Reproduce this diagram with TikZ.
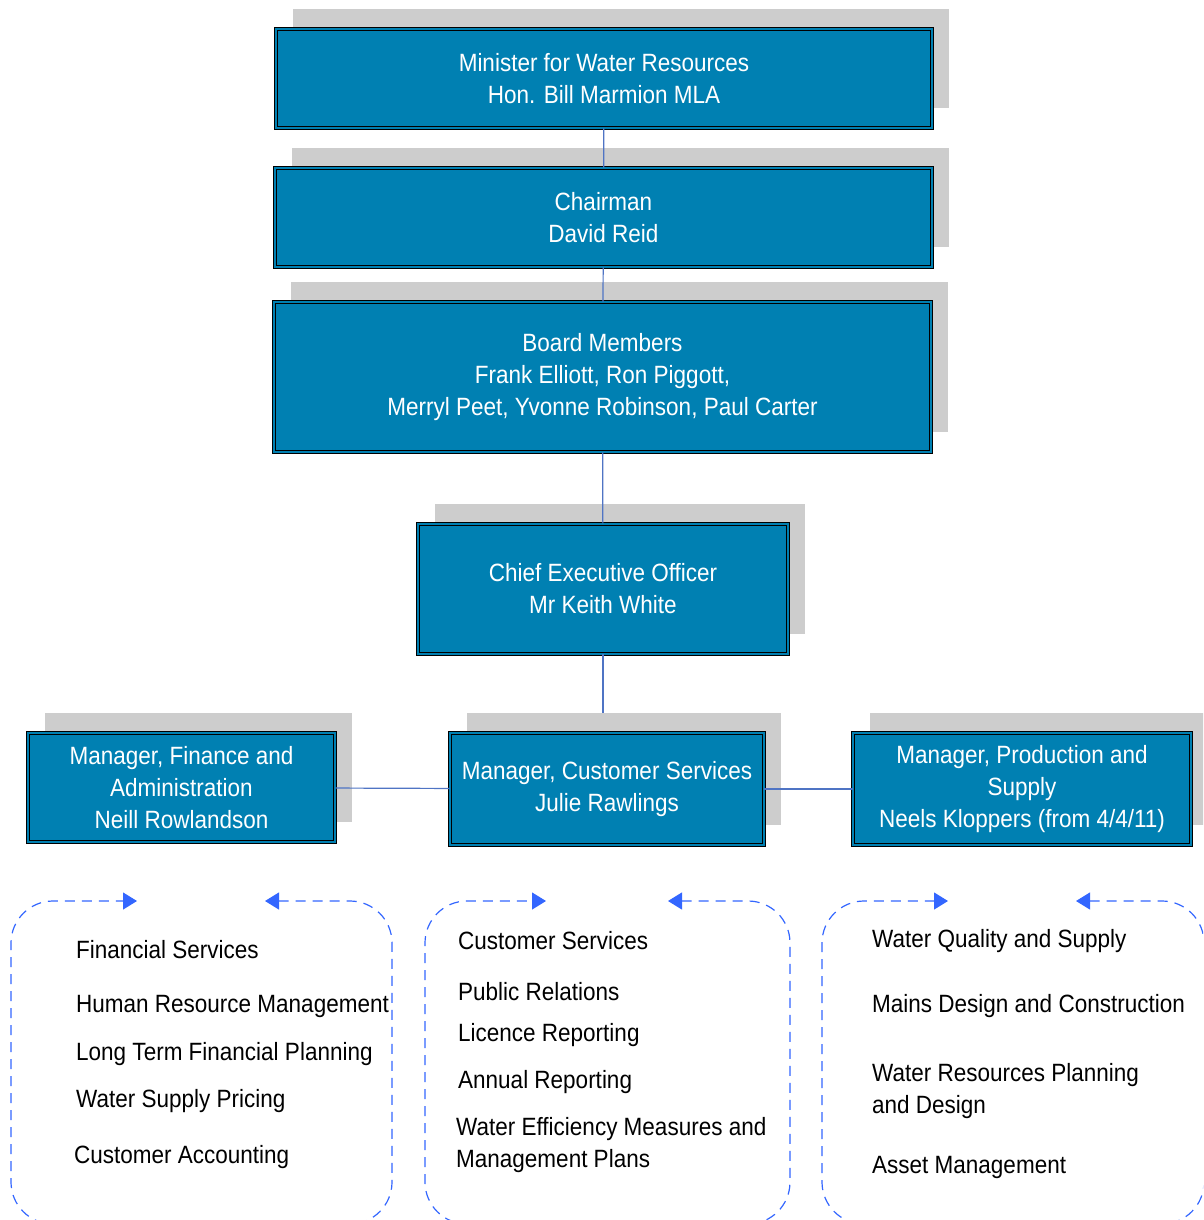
\documentclass[tikz,border=0pt]{standalone}
\usepackage{fontspec}
\setmainfont{Liberation Sans}[FakeStretch=0.9]
\usetikzlibrary{arrows.meta, shadows}
\definecolor{BoxBlue}{RGB}{0,128,178}
\definecolor{ShadowGray}{RGB}{205,205,205}
\definecolor{LinkBlue}{RGB}{79,116,196}
\definecolor{DashBlue}{RGB}{51,102,255}

\begin{document}
\begin{tikzpicture}[x=1pt, y=-1pt,
        box/.style={rectangle, draw=black, line width=0.9pt, double=BoxBlue, double distance=2.2pt, fill=BoxBlue, text=white, align=center, inner sep=0pt, font=\fontsize{25}{32}\selectfont,
            drop shadow={shadow xshift=17pt, shadow yshift=20pt, fill=ShadowGray, opacity=1}},
        link/.style={LinkBlue, line width=1.2pt},
        group/.style={DashBlue, line width=1.2pt, dash pattern=on 10pt off 7pt, rounded corners=42pt, {Triangle[length=14pt, width=17pt]}-{Triangle[length=14pt, width=17pt]}},
        item/.style={anchor=west, align=left, inner sep=0pt, font=\fontsize{25}{32}\selectfont}
    ]
        \useasboundingbox (0,0) rectangle (1203,1220);
        \clip (0,0) rectangle (1203,1220);

        % Top of the chain
        \node[box, minimum width=656pt, minimum height=99pt] (min) at (604, 78.5) {Minister for Water Resources\\Hon. Bill Marmion MLA};
        \node[box, minimum width=657pt, minimum height=99pt] (chair) at (603.5, 217.5) {Chairman\\David Reid};
        \node[box, minimum width=657pt, minimum height=150pt] (board) at (602.5, 377) {Board Members\\Frank Elliott, Ron Piggott,\\Merryl Peet, Yvonne Robinson, Paul Carter};
        \node[box, minimum width=370pt, minimum height=130pt] (ceo) at (603, 589) {Chief Executive Officer\\Mr Keith White};

        % Managers
        \node[box, minimum width=307pt, minimum height=109pt] (fin) at (181.5, 787.5) {Manager, Finance and\\Administration\\Neill Rowlandson};
        \node[box, minimum width=314pt, minimum height=112pt] (cus) at (607, 789) {Manager, Customer Services\\Julie Rawlings};
        \node[box, minimum width=338pt, minimum height=112pt] (prod) at (1022, 789) {Manager, Production and\\Supply\\Neels Kloppers (from 4/4/11)};

        % Links
        \coordinate (cus-top) at ([yshift=20pt]ceo |- cus.north);
        \draw[link] (min) -- (chair);
        \draw[link] (chair) -- (board);
        \draw[link] (board) -- (ceo);
        \draw[link] (ceo) -- (cus-top);
        \draw[link] (fin) -- (cus);
        \draw[link] (cus) -- (prod);

        % Finance and Administration
        \draw[group] (265,901) -| (392,1224) -| (11,901) -- (137,901);
        \node[item] (fin1) at (76, 950) {Financial Services};
        \node[item] (fin2) at (76, 1006) {Human Resource Management};
        \node[item] (fin3) at (76, 1054) {Long Term Financial Planning};
        \node[item] (fin4) at (76, 1101) {Water Supply Pricing};
        \node[item] (fin5) at (74, 1157) {Customer Accounting};

        % Customer Services
        \draw[group] (668,901) -| (790,1224) -| (425,901) -- (546,901);
        \node[item] (cus1) at (458, 941) {Customer Services};
        \node[item] (cus2) at (458, 992) {Public Relations};
        \node[item] (cus3) at (458, 1035) {Licence Reporting};
        \node[item] (cus4) at (458, 1082) {Annual Reporting};
        \node[item] (cus5) at (456, 1145) {Water Efficiency Measures and\\Management Plans};

        % Production and Supply
        \draw[group] (1076,901) -| (1204,1224) -| (822,901) -- (948,901);
        \node[item] (prod1) at (872, 941) {Water Quality and Supply};
        \node[item] (prod2) at (872, 1006) {Mains Design and Construction};
        \node[item] (prod3) at (872, 1091) {Water Resources Planning\\and Design};
        \node[item] (prod4) at (872, 1167) {Asset Management};
    \end{tikzpicture}
\end{document}
